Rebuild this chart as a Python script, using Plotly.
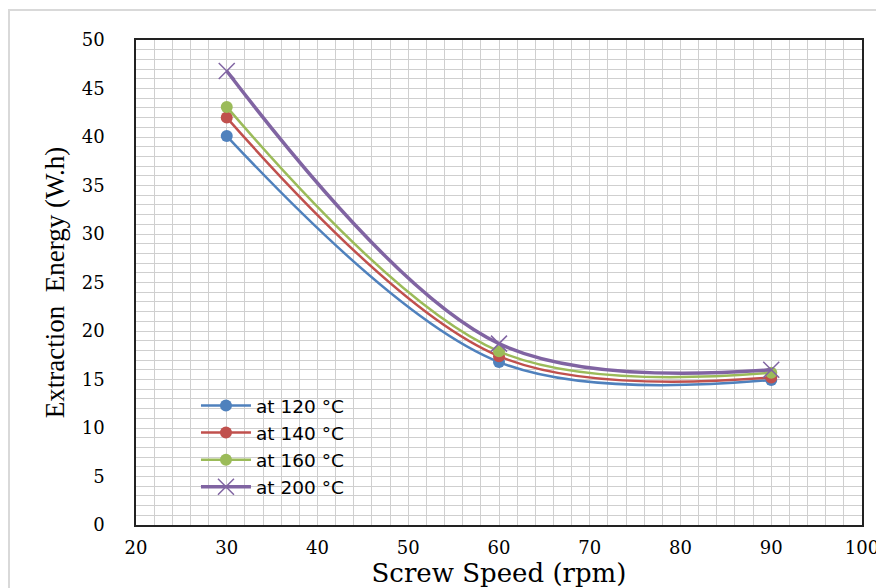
import plotly.graph_objects as go

speed = [30, 60, 90]
e120 = [40.1, 16.8, 14.95]
e140 = [42.0, 17.4, 15.2]
e160 = [43.1, 17.9, 15.7]
e200 = [46.8, 18.7, 16.0]

names = ["at 120 °C", "at 140 °C", "at 160 °C", "at 200 °C"]
colors = ["#4F81BD", "#C0504D", "#9BBB59", "#8064A2"]
series = [e120, e140, e160, e200]

fig = go.Figure()
for i, (nm, col, vals) in enumerate(zip(names, colors, series)):
    if i < 3:
        marker = dict(symbol="circle", size=12, color=col)
        lw = 2.5
    else:
        marker = dict(symbol="x-thin", size=16, line=dict(color=col, width=1.5), color=col)
        lw = 3.5
    fig.add_trace(go.Scatter(
        x=speed, y=vals, name=nm, mode="lines+markers",
        line=dict(color=col, width=lw, shape="spline", smoothing=1.0),
        marker=marker,
    ))

# outer chart border (page body has an 8px margin)
fig.add_shape(type="rect", xref="paper", yref="paper",
              x0=-0.1749, x1=1.05, y0=-0.2, y1=1.0619,
              line=dict(color="#d9d9d9", width=2), layer="below")

tick_font = dict(family="DejaVu Serif", size=18, color="black")
fig.update_layout(
    width=876, height=580,
    margin=dict(l=128, r=22, t=32, b=63, autoexpand=False),
    paper_bgcolor="white", plot_bgcolor="white",
    showlegend=True,
    legend=dict(x=0.0826, y=0.2845, xanchor="left", yanchor="top",
                bgcolor="rgba(0,0,0,0)", font=dict(family="DejaVu Sans", size=18.5, color="black"),
                tracegroupgap=0, itemwidth=50),
    xaxis=dict(range=[20, 100], dtick=10, tick0=20, showgrid=True, automargin=False,
               gridcolor="#cfcfcf", gridwidth=1,
               minor=dict(dtick=2, showgrid=True, gridcolor="#cfcfcf", gridwidth=1),
               showline=True, linecolor="#222", linewidth=1.5, mirror=True,
               ticks="", tickfont=tick_font, ticklabelstandoff=6,
               zeroline=False,
               title=dict(text="Screw Speed (rpm)", standoff=2,
                          font=dict(family="DejaVu Serif", size=26, color="black"))),
    yaxis=dict(range=[0, 50], dtick=5, showgrid=True, automargin=False,
               gridcolor="#cfcfcf", gridwidth=1,
               minor=dict(dtick=1, showgrid=True, gridcolor="#cfcfcf", gridwidth=1),
               showline=True, linecolor="#222", linewidth=1.5, mirror=True,
               ticks="", tickfont=tick_font, ticklabelstandoff=26,
               zeroline=False,
               title=dict(text="Extraction\u00a0 Energy (W.h)", standoff=9,
                          font=dict(family="Liberation Serif", size=27, color="black"))),
)

fig.write_html("out.html")
